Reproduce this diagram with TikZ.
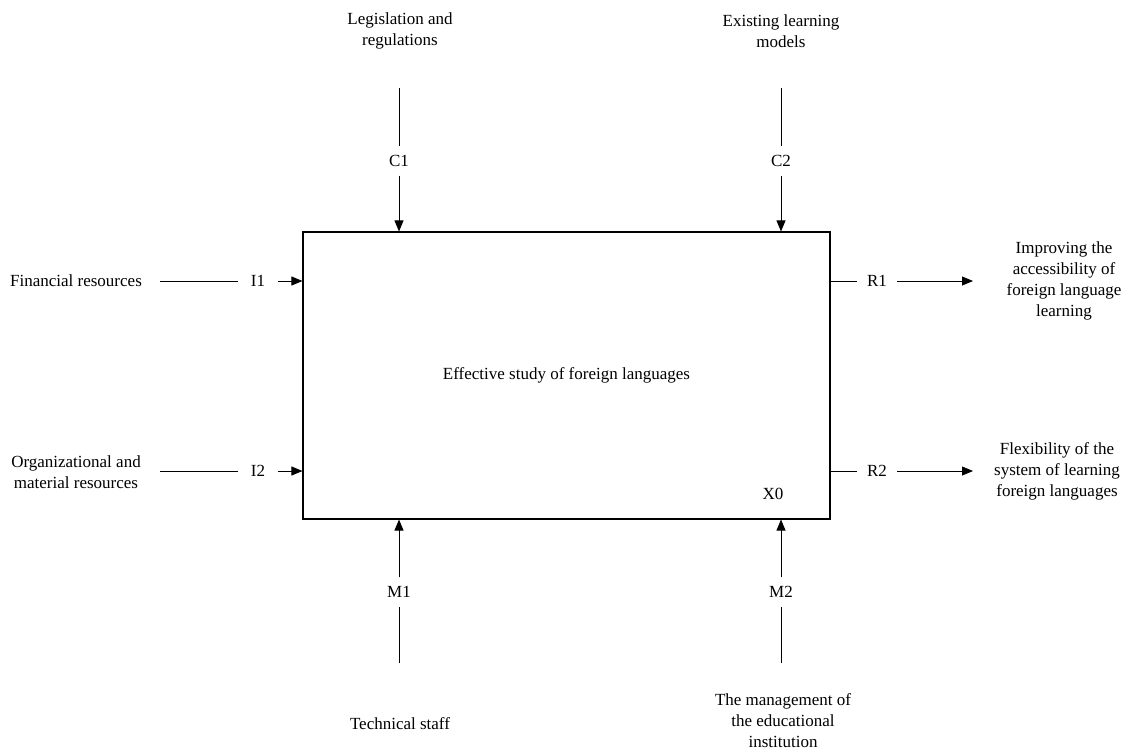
\documentclass[tikz,border=0pt]{standalone}
\usepackage{fontspec}
\setmainfont{Liberation Serif}
\usetikzlibrary{arrows.meta}
\begin{document}
\begin{tikzpicture}[x=1pt,y=-1pt,
  every node/.style={font=\fontsize{17}{21}\selectfont},
  txt/.style={align=center,inner sep=0pt},
  lab/.style={inner sep=0pt,minimum width=40pt,minimum height=29pt},
  conn/.style={line width=0.8pt},
  arr/.style={conn,-{Triangle[length=11pt,width=9pt]}},
  mainbox/.style={draw,line width=1.1pt,minimum width=527pt,minimum height=287pt,inner sep=0pt}]
\useasboundingbox (0,0) rectangle (1126,750);
% main box
\node[mainbox] (box) at (566.5,375.5) {Effective study of foreign languages};
\node[txt] (x0) at (773,494) {X0};
% source / target texts
\node[txt] (leg) at (400,31) {Legislation and\\regulations};
\node[txt] (exi) at (781,31) {Existing learning\\models};
\node[txt] (fin) at (76,281) {Financial resources};
\node[txt] (org) at (76,472) {Organizational and\\material resources};
\node[txt] (imp) at (1064,281) {Improving the\\accessibility of\\foreign language\\learning};
\node[txt] (flex) at (1057,471) {Flexibility of the\\system of learning\\foreign languages};
\node[txt] (tech) at (400,724) {Technical staff};
\node[txt] (man) at (783,721) {The management of\\the educational\\institution};
% arrow labels
\node[lab] (C1) at (399,161) {C1};
\node[lab] (C2) at (781,161) {C2};
\node[lab] (M1) at (399,592) {M1};
\node[lab] (M2) at (781,592) {M2};
\node[lab] (I1) at (258,281) {I1};
\node[lab] (I2) at (258,471) {I2};
\node[lab] (R1) at (877,281) {R1};
\node[lab] (R2) at (877,471) {R2};
% free ends
\coordinate (c1s) at (399,88);
\coordinate (c2s) at (781,88);
\coordinate (m1s) at (399,663);
\coordinate (m2s) at (781,663);
\coordinate (i1s) at (160,281);
\coordinate (i2s) at (160,471);
\coordinate (r1e) at (973,281);
\coordinate (r2e) at (973,471);
% controls
\draw[conn] (c1s) -- (C1.north);
\draw[arr] (C1.south) -- (C1.south |- box.north);
\draw[conn] (c2s) -- (C2.north);
\draw[arr] (C2.south) -- (C2.south |- box.north);
% mechanisms
\draw[conn] (m1s) -- (M1.south);
\draw[arr] (M1.north) -- (M1.north |- box.south);
\draw[conn] (m2s) -- (M2.south);
\draw[arr] (M2.north) -- (M2.north |- box.south);
% inputs
\draw[conn] (i1s) -- (I1.west);
\draw[arr] (I1.east) -- (I1.east -| box.west);
\draw[conn] (i2s) -- (I2.west);
\draw[arr] (I2.east) -- (I2.east -| box.west);
% outputs
\draw[conn] (R1.west -| box.east) -- (R1.west);
\draw[arr] (R1.east) -- (r1e);
\draw[conn] (R2.west -| box.east) -- (R2.west);
\draw[arr] (R2.east) -- (r2e);
\end{tikzpicture}
\end{document}
